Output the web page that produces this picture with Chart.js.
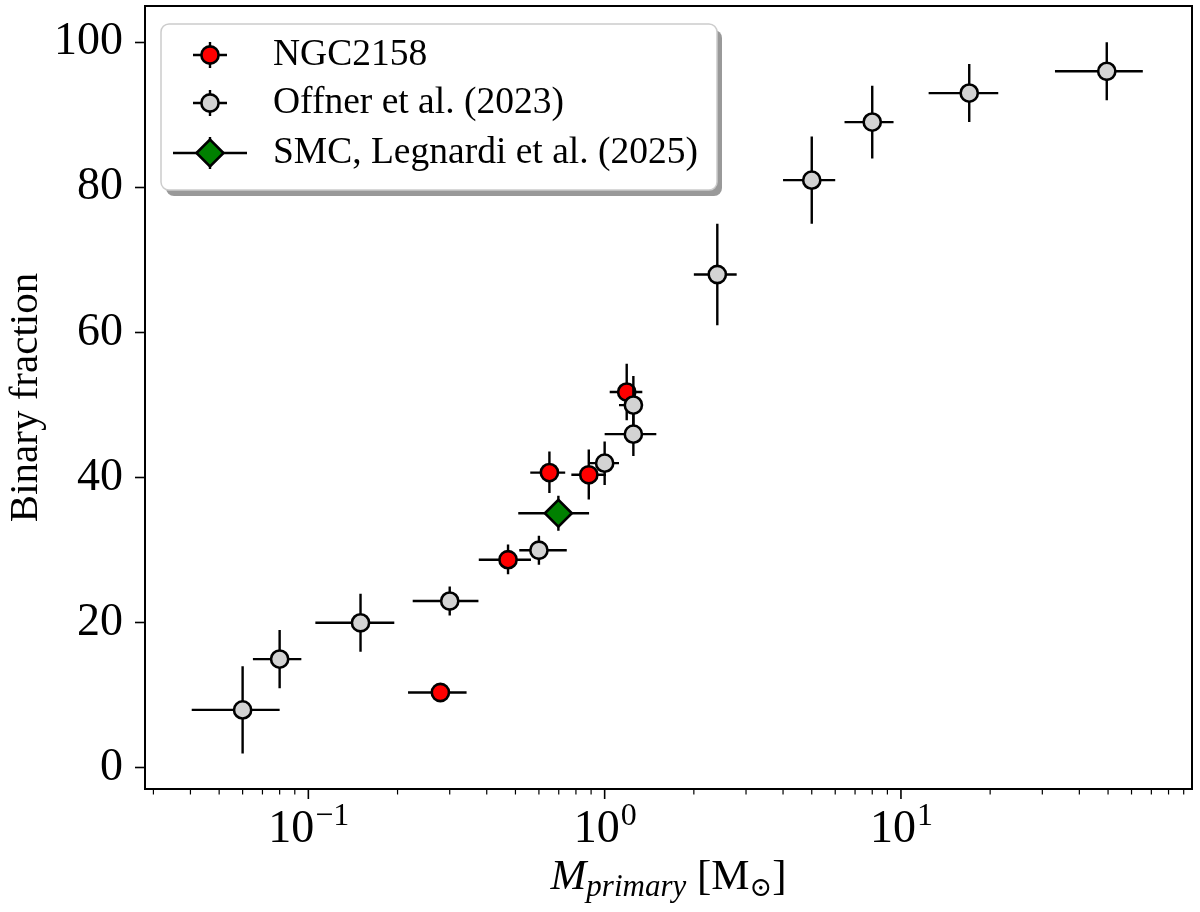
<!DOCTYPE html>
<html>
<head>
<meta charset="utf-8">
<script src="https://cdn.jsdelivr.net/npm/chart.js@4.4.1/dist/chart.umd.min.js"></script>
<style>
  html, body { margin: 0; padding: 0; background: #fff; }
  #wrap { width: 1200px; height: 912px; }
</style>
</head>
<body>
<div id="wrap"><canvas id="chart" width="1200" height="912"></canvas></div>
<script>
// values (mass in Msun, fraction in %)
const ngcMass   = [0.279, 0.472, 0.651, 0.884, 1.187];
const ngcMassLo = [0.217, 0.376, 0.561, 0.772, 1.04];
const ngcMassHi = [0.342, 0.564, 0.736, 1.01, 1.34];
const ngcFrac   = [10.4, 28.7, 40.7, 40.4, 51.8];
const ngcFracLo = [9.6, 26.7, 37.9, 37.0, 47.9];
const ngcFracHi = [11.2, 30.8, 43.6, 43.9, 55.7];

const offnerMass   = [0.06, 0.08, 0.15, 0.3, 0.6, 1.0, 1.25, 1.25, 2.4, 5.0, 8.0, 17, 49.5];
const offnerMassLo = [0.0404, 0.065, 0.1056, 0.225, 0.515, 0.886, 1.0, 1.118, 2.0, 4.0, 6.45, 12.4, 33.1];
const offnerMassHi = [0.080, 0.0947, 0.195, 0.375, 0.745, 1.118, 1.494, 1.34, 2.79, 6.0, 9.44, 21.3, 65.5];
const offnerFrac   = [8, 15, 20, 23, 30, 42, 46, 50, 68, 81, 89, 93, 96];
const offnerFracLo = [2, 11, 16, 21, 28, 39, 43, 46.5, 61, 75, 84, 89, 92];
const offnerFracHi = [14, 19, 24, 25, 32, 45, 49, 54, 75, 87, 94, 97, 100];

const smcMass   = [0.698];
const smcMassLo = [0.511];
const smcMassHi = [0.886];
const smcFrac   = [35.1];
const smcFracLo = [32.7];
const smcFracHi = [37.5];

const seriesLabels = ['NGC2158', 'Offner et al. (2023)', 'SMC, Legnardi et al. (2025)'];

// axis ticks
const xMajorTicks = [0.1, 1, 10];
const xTickExp = ['\u22121', '0', '1'];
const yTicks = [0, 20, 40, 60, 80, 100];

const SERIF = "'Liberation Serif', 'DejaVu Serif', serif";

function toPoints(xs, lo, hi, ys, ylo, yhi) {
    return xs.map((x, i) => ({ x: x, y: ys[i], xMin: lo[i], xMax: hi[i], yMin: ylo[i], yMax: yhi[i] }));
}

// error bars drawn under each dataset's markers
const errorBars = {
    id: 'errorBars',
    beforeDatasetDraw(chart, args) {
        const ctx = chart.ctx;
        const xs = chart.scales.x, ys = chart.scales.y;
        const data = chart.data.datasets[args.index].data;
        ctx.save();
        ctx.strokeStyle = '#000';
        ctx.lineWidth = 2.4;
        data.forEach(p => {
            const px = xs.getPixelForValue(p.x), py = ys.getPixelForValue(p.y);
            ctx.beginPath();
            ctx.moveTo(xs.getPixelForValue(p.xMin), py);
            ctx.lineTo(xs.getPixelForValue(p.xMax), py);
            ctx.moveTo(px, ys.getPixelForValue(p.yMin));
            ctx.lineTo(px, ys.getPixelForValue(p.yMax));
            ctx.stroke();
        });
        ctx.restore();
    }
};

// frame, log ticks, axis titles and legend
const decorations = {
    id: 'decorations',
    afterDraw(chart) {
        const ctx = chart.ctx;
        const area = chart.chartArea;
        const xs = chart.scales.x;
        ctx.save();

        // x ticks (major + minor)
        ctx.strokeStyle = '#000';
        for (let d = -2; d <= 1; d++) {
            for (let m = 1; m <= 9; m++) {
                const v = m * Math.pow(10, d);
                if (v < xs.min || v > xs.max) continue;
                const px = xs.getPixelForValue(v);
                ctx.lineWidth = m === 1 ? 1.6 : 1.2;
                ctx.beginPath();
                ctx.moveTo(px, area.bottom);
                ctx.lineTo(px, area.bottom + (m === 1 ? 10 : 5.5));
                ctx.stroke();
            }
        }

        // x tick labels 10^n
        ctx.fillStyle = '#000';
        ctx.textBaseline = 'alphabetic';
        ctx.textAlign = 'left';
        xMajorTicks.forEach((v, i) => {
            const px = xs.getPixelForValue(v);
            ctx.font = '46px ' + SERIF;
            const wb = ctx.measureText('10').width;
            ctx.font = '32px ' + SERIF;
            const we = ctx.measureText(xTickExp[i]).width;
            const x0 = px - (wb + we) / 2;
            ctx.font = '46px ' + SERIF;
            ctx.fillText('10', x0, 842);
            ctx.font = '32px ' + SERIF;
            ctx.fillText(xTickExp[i], x0 + wb + 1, 825);
        });

        // x title: M_primary [M_sun]
        const parts = [
            { t: 'M', f: 'italic 43px ' + SERIF, dy: 0 },
            { t: 'primary', f: 'italic 31px ' + SERIF, dy: 7 },
            { t: ' [M', f: '43px ' + SERIF, dy: 0 },
            { t: '\u2299', f: '27px ' + SERIF, dy: 7 },
            { t: ']', f: '43px ' + SERIF, dy: 0 }
        ];
        let total = 0;
        parts.forEach(p => { ctx.font = p.f; p.w = ctx.measureText(p.t).width; total += p.w; });
        let cx = (area.left + area.right) / 2 - total / 2;
        parts.forEach(p => { ctx.font = p.f; ctx.fillText(p.t, cx, 889 + p.dy); cx += p.w; });

        // y title
        ctx.save();
        ctx.translate(26, (area.top + area.bottom) / 2);
        ctx.rotate(-Math.PI / 2);
        ctx.textAlign = 'center';
        ctx.textBaseline = 'middle';
        ctx.font = '41px ' + SERIF;
        ctx.fillText('Binary fraction', 0, 0);
        ctx.restore();

        // frame
        ctx.strokeStyle = '#000';
        ctx.lineWidth = 2;
        ctx.strokeRect(area.left, area.top, area.right - area.left, area.bottom - area.top);

        // legend box with shadow
        const lx = 161, ly = 24, lw = 556, lh = 166;
        ctx.fillStyle = 'rgba(0,0,0,0.4)';
        ctx.beginPath();
        ctx.roundRect(lx + 5, ly + 6, lw, lh, 8);
        ctx.fill();
        ctx.fillStyle = '#fff';
        ctx.strokeStyle = '#cccccc';
        ctx.lineWidth = 1.5;
        ctx.beginPath();
        ctx.roundRect(lx, ly, lw, lh, 8);
        ctx.fill();
        ctx.stroke();

        const order = [2, 1, 0]; // dataset index for NGC, Offner, SMC
        const rowsY = [55, 103, 153];
        const mx = 210;
        order.forEach((di, r) => {
            const ds = chart.data.datasets[di];
            const y = rowsY[r];
            const hw = ds.pointStyle === 'rectRot' ? 37 : 17;
            const hv = ds.pointStyle === 'rectRot' ? 16 : 13;
            ctx.strokeStyle = '#000';
            ctx.lineWidth = 2.4;
            ctx.beginPath();
            ctx.moveTo(mx - hw, y); ctx.lineTo(mx + hw, y);
            ctx.moveTo(mx, y - hv); ctx.lineTo(mx, y + hv);
            ctx.stroke();
            ctx.fillStyle = ds.backgroundColor;
            ctx.strokeStyle = ds.borderColor;
            ctx.lineWidth = ds.borderWidth;
            Chart.helpers.drawPoint(ctx, { pointStyle: ds.pointStyle, radius: ds.pointRadius, rotation: 0, borderWidth: ds.borderWidth }, mx, y);
            ctx.fillStyle = '#000';
            ctx.font = '37.5px ' + SERIF;
            ctx.textAlign = 'left';
            ctx.textBaseline = 'alphabetic';
            ctx.fillText(ds.label, 273, y + 10);
        });

        ctx.restore();
    }
};

const ctx = document.getElementById('chart').getContext('2d');
new Chart(ctx, {
    type: 'scatter',
    data: {
        datasets: [
            {
                label: seriesLabels[2],
                data: toPoints(smcMass, smcMassLo, smcMassHi, smcFrac, smcFracLo, smcFracHi),
                pointStyle: 'rectRot', pointRadius: 13.5,
                backgroundColor: '#008000', borderColor: '#000', borderWidth: 2.6
            },
            {
                label: seriesLabels[1],
                data: toPoints(offnerMass, offnerMassLo, offnerMassHi, offnerFrac, offnerFracLo, offnerFracHi),
                pointStyle: 'circle', pointRadius: 8.6,
                backgroundColor: '#d3d3d3', borderColor: '#000', borderWidth: 2.6
            },
            {
                label: seriesLabels[0],
                data: toPoints(ngcMass, ngcMassLo, ngcMassHi, ngcFrac, ngcFracLo, ngcFracHi),
                pointStyle: 'circle', pointRadius: 8.6,
                backgroundColor: '#ff0000', borderColor: '#000', borderWidth: 2.6
            }
        ]
    },
    options: {
        responsive: false,
        animation: false,
        events: [],
        layout: { autoPadding: false, padding: { left: 0, top: 6, right: 8, bottom: 0 } },
        plugins: { legend: { display: false }, tooltip: { enabled: false } },
        scales: {
            x: {
                type: 'logarithmic',
                min: 0.0281,
                max: 96,
                grid: { display: false },
                border: { display: false },
                ticks: { display: false },
                afterFit(scale) {
                    scale.height = 123;
                    scale.paddingLeft = 0; scale.paddingRight = 0;
                }
            },
            y: {
                type: 'linear',
                min: -2.9,
                max: 105,
                afterBuildTicks(scale) { scale.ticks = yTicks.map(v => ({ value: v })); },
                grid: { drawOnChartArea: false, drawTicks: true, tickLength: 10, tickWidth: 1.6, tickColor: '#000' },
                border: { display: false },
                ticks: { color: '#000', padding: 12, font: { family: SERIF, size: 46 } },
                afterFit(scale) {
                    scale.width = 145;
                    scale.paddingTop = 0; scale.paddingBottom = 0;
                }
            }
        }
    },
    plugins: [errorBars, decorations]
});
</script>
</body>
</html>
